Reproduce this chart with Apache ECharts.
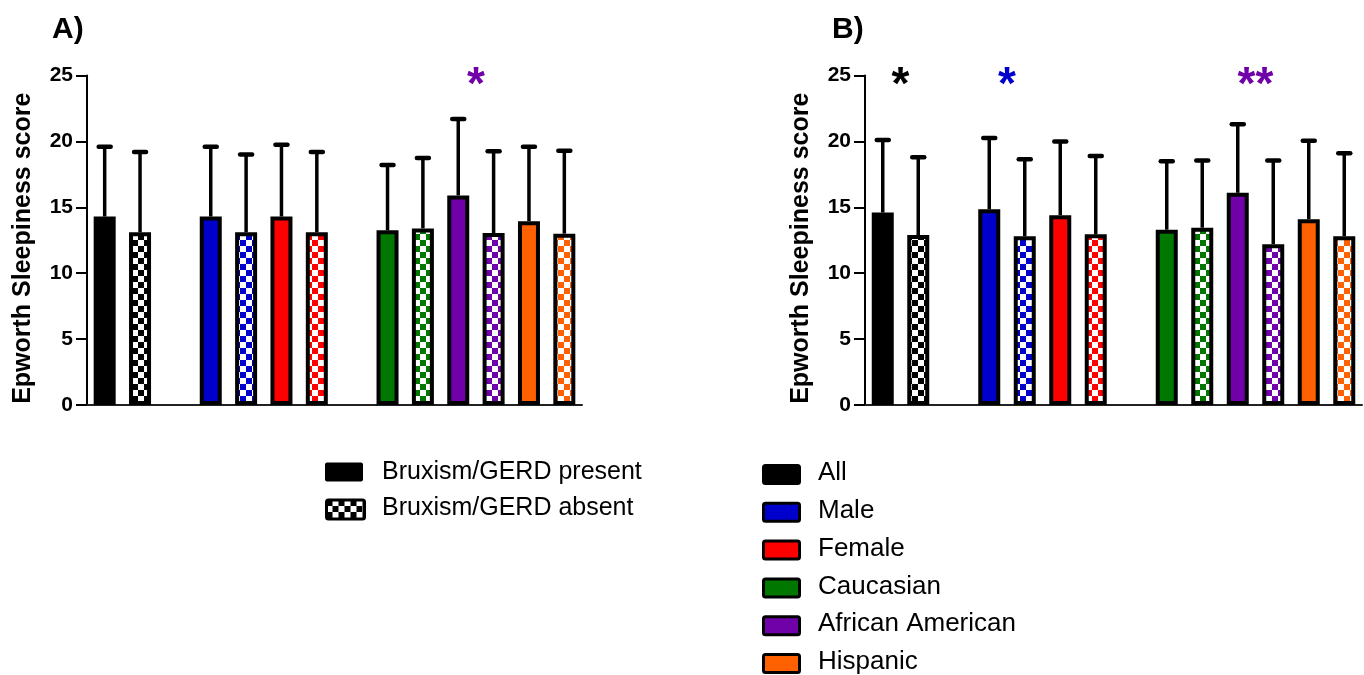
<!DOCTYPE html>
<html><head><meta charset="utf-8">
<script src="https://cdn.jsdelivr.net/npm/echarts@6/dist/echarts.min.js"></script>
<style>html,body{margin:0;padding:0;background:#fff}#c{width:1364px;height:675px}</style>
</head><body><div id="c"></div>
<script>
// ---------------- data ----------------
const groups = ['All', 'Male', 'Female', 'Caucasian', 'African American', 'Hispanic'];
const groupColors = ['#000000', '#0000CC', '#FF0000', '#007800', '#7000A8', '#FF6000'];
const gapAfterGroups = ['All', 'Female'];
const yTicks = [0, 5, 10, 15, 20, 25];
const yTitle = 'Epworth Sleepiness score';
const panelTitles = ['A)', 'B)'];

// Panel A: Bruxism present / absent (mean, upper SD)
const aPresentMean = [14.3, 14.3, 14.3, 13.25, 15.9, 13.95];
const aPresentSD   = [5.3, 5.3, 5.45, 4.95, 5.8, 5.65];
const aAbsentMean  = [13.1, 13.1, 13.1, 13.4, 13.05, 13.0];
const aAbsentSD    = [6.1, 5.9, 6.1, 5.35, 6.2, 6.3];
// Panel B: GERD present / absent
const bPresentMean = [14.6, 14.85, 14.4, 13.3, 16.1, 14.1];
const bPresentSD   = [5.5, 5.4, 5.6, 5.2, 5.2, 5.95];
const bAbsentMean  = [12.9, 12.8, 12.95, 13.45, 12.2, 12.8];
const bAbsentSD    = [5.9, 5.85, 5.95, 5.1, 6.35, 6.3];

const starsA = [{ group: 'African American', text: '*' }];
const starsB = [{ group: 'All', text: '*' }, { group: 'Male', text: '*' }, { group: 'African American', text: '**' }];

const legendA = ['Bruxism/GERD present', 'Bruxism/GERD absent'];
const legendB = groups;

// ---------------- helpers ----------------
const FONT = "'Liberation Sans', Arial, sans-serif";
function checker(color) {
  const c = document.createElement('canvas');
  c.width = 12; c.height = 12;
  const ctx = c.getContext('2d');
  ctx.fillStyle = '#fff'; ctx.fillRect(0, 0, 12, 12);
  ctx.fillStyle = color;
  ctx.fillRect(0, 0, 6, 6); ctx.fillRect(6, 6, 6, 6);
  return { image: c, repeat: 'repeat' };
}

// category slots
const slots = [];
groups.forEach((g, gi) => {
  slots.push({ name: g + ' present', gi, kind: 'present' });
  slots.push({ name: g + ' absent', gi, kind: 'absent' });
  if (gapAfterGroups.includes(g)) slots.push({ name: 'gap' + gi, gi: -1 });
});
const categories = slots.map(s => s.name);

function buildPanel(pm, psd, am, asd) {
  const bars = [], errs = [];
  slots.forEach((s, i) => {
    if (s.gi < 0) { bars.push('-'); return; }
    const col = groupColors[s.gi];
    const m = s.kind === 'present' ? pm[s.gi] : am[s.gi];
    const sd = s.kind === 'present' ? psd[s.gi] : asd[s.gi];
    bars.push({ value: m, itemStyle: { color: s.kind === 'present' ? col : checker(col) } });
    errs.push([i, m, sd]);
  });
  return { bars, errs };
}
const pA = buildPanel(aPresentMean, aPresentSD, aAbsentMean, aAbsentSD);
const pB = buildPanel(bPresentMean, bPresentSD, bAbsentMean, bAbsentSD);

function starData(stars) {
  return stars.map(s => [categories.indexOf(s.group + ' present'), 25]);
}

function errRender(params, api) {
  const i = api.value(0), m = api.value(1), sd = api.value(2);
  const p0 = api.coord([i, m]);
  const p1 = api.coord([i, m + sd]);
  return {
    type: 'group', children: [
      { type: 'line', shape: { x1: p0[0], y1: p0[1], x2: p1[0], y2: p1[1] }, style: { stroke: '#000', lineWidth: 3.5 } },
      { type: 'line', shape: { x1: p1[0] - 6, y1: p1[1], x2: p1[0] + 6, y2: p1[1] }, style: { stroke: '#000', lineWidth: 4.5, lineCap: 'round' } }
    ]
  };
}
function starRender(stars) {
  return function (params, api) {
    const s = stars[params.dataIndex];
    const i = api.value(0);
    const a = api.coord([i, api.value(1)]);
    const b = api.coord([i + 1, api.value(1)]);
    return {
      type: 'text',
      style: {
        text: s.text, x: (a[0] + b[0]) / 2, y: a[1] + 11,
        fill: groupColors[groups.indexOf(s.group)],
        font: 'bold 46px ' + FONT, align: 'center', verticalAlign: 'middle'
      }
    };
  };
}

const grids = [
  { left: 87, top: 75.5, width: 495, height: 329.5 },
  { left: 865, top: 75.5, width: 497, height: 329.5 }
];
const xAxes = grids.map((g, k) => ({
  type: 'category', gridIndex: k, data: categories,
  axisLine: { lineStyle: { color: '#222', width: 2 } },
  axisTick: { show: false }, axisLabel: { show: false }, splitLine: { show: false }
}));
const yAxes = grids.map((g, k) => ({
  type: 'value', gridIndex: k, min: yTicks[0], max: yTicks[yTicks.length - 1], interval: yTicks[1] - yTicks[0],
  name: yTitle, nameLocation: 'middle', nameGap: 51,
  nameTextStyle: { fontFamily: FONT, fontWeight: 'bold', fontSize: 25, color: '#000', padding: [0, 16, 0, 0] },
  axisLine: { show: true, lineStyle: { color: '#000', width: 2 } },
  axisTick: { show: true, length: 11, lineStyle: { color: '#000', width: 2 } },
  axisLabel: { fontFamily: FONT, fontWeight: 'bold', fontSize: 21, color: '#000', margin: 14 },
  splitLine: { show: false }
}));

const series = [];
[pA, pB].forEach((p, k) => {
  series.push({
    type: 'bar', xAxisIndex: k, yAxisIndex: k, data: p.bars, barWidth: 22,
    itemStyle: { borderColor: '#000', borderWidth: 4 }, silent: true, animation: false, z: 2
  });
  series.push({
    type: 'custom', xAxisIndex: k, yAxisIndex: k, data: p.errs, renderItem: errRender,
    silent: true, animation: false, z: 1
  });
});
series.push({ type: 'custom', xAxisIndex: 0, yAxisIndex: 0, data: starData(starsA), renderItem: starRender(starsA), silent: true, animation: false, z: 5 });
series.push({ type: 'custom', xAxisIndex: 1, yAxisIndex: 1, data: starData(starsB), renderItem: starRender(starsB), silent: true, animation: false, z: 5 });

// legends (graphic)
const graphics = [];
legendA.forEach((t, i) => {
  const cy = 472 + i * 36;
  graphics.push({
    type: 'rect', left: 325, top: cy - 9.5, shape: { width: 38, height: 19, r: 2 },
    style: i === 0 ? { fill: '#000' } : { fill: checker('#000'), stroke: '#000', lineWidth: 3 }
  });
  graphics.push({ type: 'text', x: 382, y: cy, style: { text: t, font: '25px ' + FONT, fill: '#000', verticalAlign: 'middle' } });
});
legendB.forEach((t, i) => {
  const cy = 473 + i * 37.8;
  graphics.push({
    type: 'rect', left: 762, top: cy - 9, shape: { width: 36, height: 18, r: 2 },
    style: { fill: groupColors[i], stroke: '#000', lineWidth: 3 }
  });
  graphics.push({ type: 'text', x: 818, y: cy, style: { text: t, font: '26px ' + FONT, fill: '#000', verticalAlign: 'middle' } });
});

const chart = echarts.init(document.getElementById('c'), null, { renderer: 'canvas' });
chart.setOption({
  animation: false,
  backgroundColor: '#fff',
  title: [
    { text: panelTitles[0], left: 52, top: 15, padding: 0, textStyle: { fontFamily: FONT, fontWeight: 'bold', fontSize: 30, color: '#000' } },
    { text: panelTitles[1], left: 832, top: 15, padding: 0, textStyle: { fontFamily: FONT, fontWeight: 'bold', fontSize: 30, color: '#000' } }
  ],
  grid: grids, xAxis: xAxes, yAxis: yAxes, series, graphic: graphics
});
</script></body></html>
